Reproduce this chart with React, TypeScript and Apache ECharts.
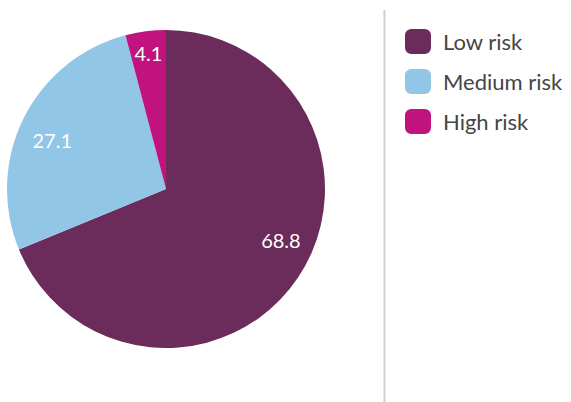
import React, { useEffect, useRef } from "react";
import * as echarts from "echarts";

const categories = ["Low risk", "Medium risk", "High risk"];
const values = [68.8, 27.1, 4.1];
const colors = ["#6c2c5b", "#92c6e6", "#c0137e"];

const CX = 166;
const CY = 189;
const R = 159;
// label placement (fraction of radius, angle tweak in degrees) per slice
const labelRadiusFrac = [0.79, 0.78, 0.86];
const labelAngleShift = [-10, -3, 0];

export default function App() {
  const ref = useRef<HTMLDivElement>(null);
  useEffect(() => {
    document.body.style.margin = "0";
    const chart = echarts.init(ref.current!, null, { renderer: "svg" });
    const total = values.reduce((a, b) => a + b, 0);
    const mids: number[] = [];
    let acc = 0;
    values.forEach((v) => {
      mids.push(((acc + v / 2) / total) * 360);
      acc += v;
    });
    chart.setOption({
      animation: false,
      backgroundColor: "#ffffff",
      color: colors,
      legend: {
        orient: "vertical",
        left: 405,
        top: 29,
        padding: 0,
        itemWidth: 26,
        itemHeight: 25,
        itemGap: 15,
        icon: "roundRect",
        data: categories,
        textStyle: {
          fontFamily: "Lato",
          fontSize: 22,
          color: "#454545",
          padding: [0, 0, 0, 7],
        },
      },
      graphic: [
        {
          type: "line",
          shape: { x1: 384.5, y1: 10, x2: 384.5, y2: 402 },
          style: { stroke: "#cfcfcf", lineWidth: 2 },
          silent: true,
        },
      ],
      series: [
        {
          type: "pie",
          center: [CX, CY],
          radius: [0, R],
          startAngle: 90,
          clockwise: true,
          avoidLabelOverlap: false,
          itemStyle: { borderWidth: 0 },
          label: {
            show: true,
            position: "inside",
            color: "#ffffff",
            fontFamily: "Lato",
            fontSize: 20,
            formatter: (p: any) => p.value.toFixed(1),
          },
          labelLine: { show: false },
          emphasis: { disabled: true },
          labelLayout: (p: any) => {
            const i = p.dataIndex;
            const ang = ((mids[i] + labelAngleShift[i]) * Math.PI) / 180;
            const r = R * labelRadiusFrac[i];
            return {
              x: CX + Math.sin(ang) * r,
              y: CY - Math.cos(ang) * r,
            };
          },
          data: categories.map((name, i) => ({ name, value: values[i] })),
        },
      ],
    });
    return () => chart.dispose();
  }, []);
  return <div ref={ref} style={{ width: 571, height: 402 }} />;
}
